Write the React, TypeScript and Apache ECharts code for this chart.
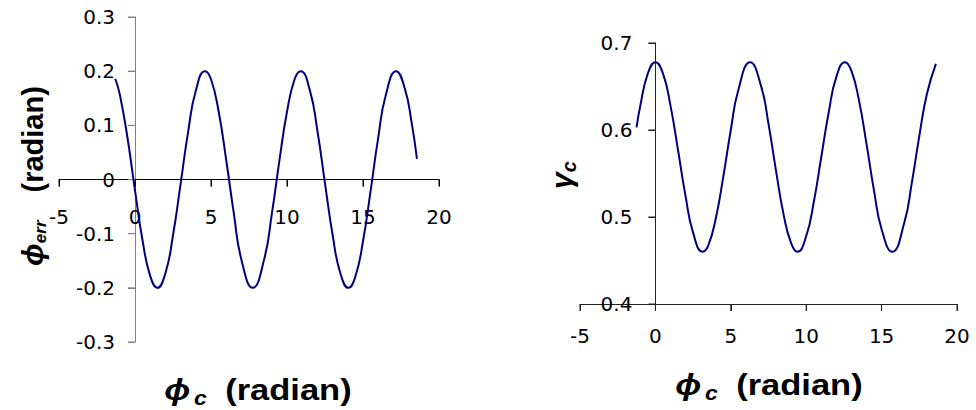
import React, { useEffect, useRef } from "react";
import * as echarts from "echarts";

// Left chart: phase error vs phi_c
const errPhiC = [-1.3, -1, -0.5, 0, 0.5, 1, 1.47, 2, 2.5, 3, 3.5, 4, 4.61, 5, 5.5, 6, 6.5, 7, 7.75, 8.5, 9, 9.5, 10, 10.5, 10.9, 11.5, 12, 12.5, 13, 13.5, 14.04, 14.5, 15, 15.5, 16, 16.5, 17.18, 17.75, 18.2, 18.55];
const phiErr = [0.186, 0.157, 0.078, -0.02, -0.113, -0.178, -0.2, -0.173, -0.103, -0.008, 0.089, 0.164, 0.2, 0.185, 0.126, 0.036, -0.062, -0.148, -0.2, -0.147, -0.064, 0.035, 0.125, 0.185, 0.2, 0.165, 0.09, -0.007, -0.102, -0.172, -0.2, -0.179, -0.114, -0.021, 0.077, 0.156, 0.2, 0.168, 0.105, 0.038];

// Right chart: gamma_c vs phi_c
const gamPhiC = [-1.25, -1, -0.5, 0, 0.5, 1, 1.5, 2, 2.5, 3.14, 3.5, 4, 4.5, 5, 5.5, 6.28, 7, 7.5, 8, 8.5, 9, 9.42, 10, 10.5, 11, 11.5, 12, 12.57, 13, 13.5, 14, 14.5, 15, 15.71, 16.5, 17, 17.5, 18, 18.6];
const gammaC = [0.603, 0.628, 0.665, 0.678, 0.665, 0.628, 0.577, 0.524, 0.482, 0.46, 0.467, 0.498, 0.546, 0.6, 0.646, 0.678, 0.651, 0.607, 0.553, 0.503, 0.47, 0.46, 0.478, 0.517, 0.569, 0.621, 0.661, 0.678, 0.668, 0.634, 0.584, 0.53, 0.486, 0.46, 0.493, 0.539, 0.593, 0.641, 0.676];

// Tick values
const xTickVals = [-5, 0, 5, 10, 15, 20];
const errTickVals = [-0.3, -0.2, -0.1, 0, 0.1, 0.2, 0.3];
const gamTickVals = [0.4, 0.5, 0.6, 0.7];

const xTicks = { min: -5, max: 20, interval: 5 };
const errTicks = { min: -0.3, max: 0.3, interval: 0.1 };
const gamTicks = { min: 0.4, max: 0.7, interval: 0.1 };

const LINE = "#00007f";
const TICK_FONT = "DejaVu Sans";
const TITLE_FONT = "Liberation Sans";

export default function App() {
  const ref = useRef<HTMLDivElement>(null);
  useEffect(() => {
    if (!ref.current) return;
    const chart = echarts.init(ref.current, null, { renderer: "svg" });
    const label = (margin: number) => ({
      color: "#000",
      fontFamily: TICK_FONT,
      fontSize: 20,
      margin,
      formatter: (v: number) => String(Math.round(v * 10) / 10),
    });
    const axisLine = (color: string) => ({ show: true, onZero: false, lineStyle: { color, width: 1 } });
    const tick = (color: string) => ({ show: true, length: 7, lineStyle: { color, width: 1 } });
    const titleRich = {
      phi: { fontFamily: TITLE_FONT, fontSize: 30, fontWeight: "bold", fontStyle: "italic", lineHeight: 36, verticalAlign: "bottom", padding: [0, 0, 3, 0], fill: "#000" },
      sub: { fontFamily: TITLE_FONT, fontSize: 20, fontWeight: "bold", fontStyle: "italic", lineHeight: 36, verticalAlign: "bottom", fill: "#000" },
      sub2: { fontFamily: TITLE_FONT, fontSize: 17, fontWeight: "bold", fontStyle: "italic", lineHeight: 36, verticalAlign: "bottom", padding: [0, 0, 1, 0], fill: "#000" },
      b: { fontFamily: TITLE_FONT, fontSize: 29, fontWeight: "bold", lineHeight: 36, verticalAlign: "bottom", padding: [0, 0, 3, 0], fill: "#000" },
      bx: { fontFamily: TITLE_FONT, fontSize: 30, fontWeight: "bold", lineHeight: 36, verticalAlign: "bottom", padding: [0, 0, 3, 0], fill: "#000" },
      gap: { width: 28, lineHeight: 36 },
      gapx: { width: 16, lineHeight: 36 },
      gap2: { width: 3, lineHeight: 36 },
    };
    const titles: any[] = [
      {
        type: "text", x: 258, y: 390, scaleX: 1.15,
        style: { text: "{phi|ϕ}{gap2| }{sub|c}{gapx| }{bx|(radian)}", rich: titleRich, align: "center", verticalAlign: "middle" },
      },
      {
        type: "text", x: 769, y: 385, scaleX: 1.15,
        style: { text: "{phi|ϕ}{gap2| }{sub|c}{gapx| }{bx|(radian)}", rich: titleRich, align: "center", verticalAlign: "middle" },
      },
      {
        type: "text", x: 32, y: 176, rotation: Math.PI / 2,
        style: { text: "{phi|ϕ}{sub2|err}{gap| }{b|(radian)}", rich: titleRich, align: "center", verticalAlign: "middle" },
      },
      {
        type: "text", x: 561, y: 175, rotation: Math.PI / 2,
        style: { text: "{phi|γ}{sub|c}", rich: titleRich, align: "center", verticalAlign: "middle" },
      },
    ];
    chart.setOption({
      animation: false,
      backgroundColor: "#fff",
      grid: [
        { left: 59, top: 17, width: 380, height: 325 },
        { left: 580, top: 43, width: 377, height: 261 },
      ],
      xAxis: [
        { type: "value", gridIndex: 0, position: "bottom", offset: -162.5, ...xTicks, axisLine: axisLine("#000"), axisTick: tick("#000"), axisLabel: label(27), splitLine: { show: false } },
        { type: "value", gridIndex: 1, position: "bottom", ...xTicks, axisLine: axisLine("#222"), axisTick: tick("#222"), axisLabel: label(22), splitLine: { show: false } },
      ],
      yAxis: [
        { type: "value", gridIndex: 0, position: "left", offset: -76, ...errTicks, axisLine: axisLine("#808080"), axisTick: tick("#808080"), axisLabel: label(20), splitLine: { show: false } },
        { type: "value", gridIndex: 1, position: "left", offset: -75.4, ...gamTicks, axisLine: axisLine("#222"), axisTick: tick("#222"), axisLabel: label(23), splitLine: { show: false } },
      ],
      series: [
        {
          type: "line", xAxisIndex: 0, yAxisIndex: 0, smooth: 0.5, showSymbol: false,
          lineStyle: { color: LINE, width: 2 },
          data: errPhiC.map((x, i) => [x, phiErr[i]]),
        },
        {
          type: "line", xAxisIndex: 1, yAxisIndex: 1, smooth: 0.5, showSymbol: false,
          lineStyle: { color: LINE, width: 2 },
          data: gamPhiC.map((x, i) => [x, gammaC[i]]),
        },
      ],
      graphic: titles,
    });

    // Tick marks placed through the chart's own scales
    const tickLines: any[] = [];
    const addLine = (x1: number, y1: number, x2: number, y2: number, color: string) =>
      tickLines.push({ type: "line", silent: true, shape: { x1, y1, x2, y2 }, style: { stroke: color, lineWidth: 1 } });
    xTickVals.forEach((v) => {
      const p0 = chart.convertToPixel({ gridIndex: 0 }, [v, 0]) as number[];
      addLine(p0[0], p0[1], p0[0], p0[1] + 7, "#000");
      const p1 = chart.convertToPixel({ gridIndex: 1 }, [v, gamTicks.min]) as number[];
      addLine(p1[0], p1[1], p1[0], p1[1] + 7, "#222");
    });
    errTickVals.forEach((v) => {
      const p = chart.convertToPixel({ gridIndex: 0 }, [0, v]) as number[];
      addLine(p[0] - 7, p[1], p[0], p[1], "#808080");
    });
    gamTickVals.forEach((v) => {
      const p = chart.convertToPixel({ gridIndex: 1 }, [0, v]) as number[];
      addLine(p[0] - 7, p[1], p[0], p[1], "#222");
    });
    chart.setOption({ graphic: [...titles, ...tickLines] });

    return () => chart.dispose();
  }, []);
  return <div ref={ref} style={{ position: "absolute", left: 0, top: 0, width: 976, height: 410 }} />;
}
